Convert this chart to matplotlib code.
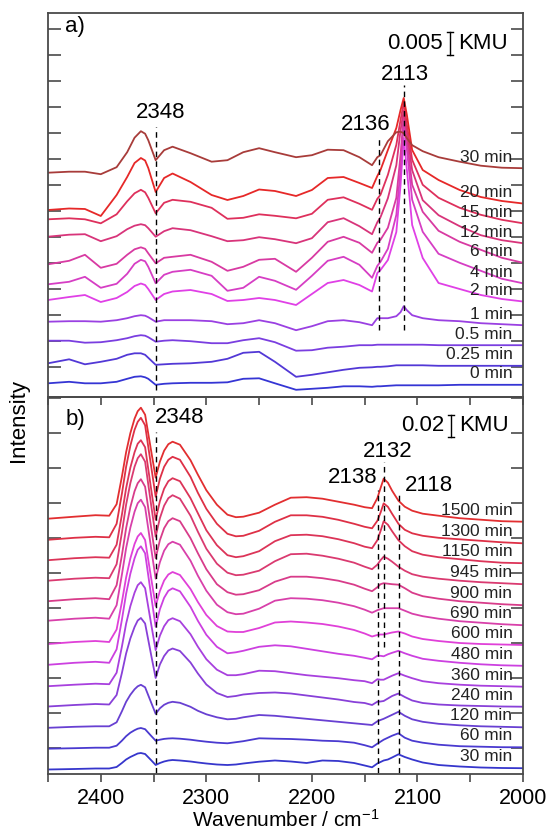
import numpy as np
import matplotlib
matplotlib.use("Agg")
import matplotlib.pyplot as plt
from matplotlib.ticker import MultipleLocator

plt.rcParams['font.family'] = ['Liberation Sans', 'DejaVu Sans']
plt.rcParams['mathtext.default'] = 'regular'

# ---------------- panel a) : spectra ----------------
# intensities relative to the value at 2450 cm-1, in units of 0.005/23 KMU
wn_a = [2450, 2430, 2415, 2400, 2385, 2375, 2368, 2362, 2358, 2355, 2348, 2340, 2332,
        2315, 2295, 2280, 2265, 2250, 2235, 2215, 2200, 2185, 2170, 2155, 2143, 2138,
        2135, 2128, 2120, 2116, 2113, 2110, 2105, 2095, 2080, 2060, 2040, 2020, 2000]

a_0 = [0, 1.5, 0, 0, 1.5, 4.5, 6.5, 7, 6, 4.5, -1.5, -0.5, 0, 0.5, 0.5, 1, 4.5, 5, 0, -6.5,
       -5.5, -4.5, -3, -3, -3.5, -3, -3, -2.5, -2, -2, -2, -2, -2, -2, -2, -1.5, -1.5, -1.5,
       -1.5]
a_025 = [0, 4, -1, 1.5, 4.5, 8.5, 10, 10, 8.5, 5.5, -1.5, -1, -0.5, 0, 1.5, 4.5, 10.5, 11.5,
         1.5, -13.5, -11.5, -9, -6.5, -4.5, -4, -3.5, -3.5, -3, -2, -2, -2, -2, -2, -2, -2.5,
         -2.5, -2.5, -2.5, -2.5]
a_05 = [0, 0, -2, -1.5, 0.5, 2.5, 4.5, 5.5, 5, 3.5, -1, 0, 0.5, -0.5, -2.5, -2.5, 0.5, 2.5,
        -1.5, -10, -9.5, -7, -6, -4.5, -4.5, -4, -4, -4, -4, -4, -4, -4, -4, -4, -4.5, -4.5,
        -4.5, -4.5, -4.5]
a_1 = [0, 0.5, 0.5, 0, 1.5, 3.5, 5.5, 6.5, 6, 4.5, 0, 1.5, 1.5, 1.5, 0.5, -2.5, -1.5, 1.5,
       -1.5, -8.5, -4.5, 0.5, 1.5, -0.5, -3.5, 3.5, 3.5, 3.5, 5.5, 9.5, 15.5, 11.5, 6.5, 3.5,
       1.5, 0.5, -1.5, -2.5, -3.5]
a_2 = [0, 3, 5, -2, 2, 8, 14, 16.5, 15, 11, 0, 6, 8.5, 10, 6, -1, 0, 2, 0, -5, 6, 17, 20, 15,
       8.5, 27, 30, 40, 68, 115, 162, 130, 75, 42, 17, 11, 5, 1, -1.5]
a_4 = [0, 2.5, 7.5, -3.5, 0.5, 10.5, 20.5, 24.5, 23, 17.5, 1, 9.5, 12.5, 14.5, 8.5, -6.5,
       -3.5, 7.5, 3.5, -5.5, 8.5, 23.5, 27.5, 19.5, 6.5, 18.5, 22.5, 35.5, 69.5, 114.5, 160.5,
       134.5, 84.5, 52.5, 30.5, 21.5, 13.5, 5.5, 1]
a_6 = [0, 3.5, 9.5, -3.5, 0.5, 9.5, 15, 17, 15.5, 11, 1, 6.5, 7.5, 9.5, 2.5, -6.5, -2.5, 4.5,
       5.5, -7.5, 6.5, 22.5, 27.5, 21.5, 11.5, 21.5, 24.5, 36.5, 66.5, 109.5, 149.5, 124.5,
       79.5, 52.5, 33.5, 22.5, 14.5, 6.5, 1.5]
a_12 = [0, 2, 2.5, -4.5, 0.5, 7.5, 11, 12.5, 11.5, 8.5, 0, 5.5, 8.5, 6.5, 0.5, -4.5, -3.5,
        -0.5, -2.5, -6.5, -1.5, 14.5, 18.5, 10.5, 2.5, 14.5, 19.5, 38.5, 71.5, 106.5, 126.5,
        104.5, 66.5, 36.5, 21.5, 10.5, 1.5, -3.5, -6.5]
a_15 = [0, 1, 0, -4, 5, 18, 26, 29.5, 27, 21.5, 6, 16.5, 19.5, 17.5, 11.5, 0.5, 1.5, 5, 3.5,
        1, 5.5, 19.5, 22, 15.5, 9.5, 20.5, 24.5, 44.5, 74.5, 99.5, 116.5, 94.5, 59.5, 34.5,
        21.5, 11.5, 4.5, -0.5, -4]
a_20 = [0, 1.5, 1, -6, 15, 33, 47, 52, 49.5, 42, 18, 32, 36.5, 28, 15, 10, 14, 20.5, 19, 14,
        20, 32, 33, 27, 22, 34, 40, 60, 82, 100, 112, 95, 60, 40, 30, 20, 13, 9, 6.5]
a_30 = [0, 1, 1, -1.5, 5.5, 20.5, 35, 41.5, 39, 32.5, 12.5, 22.5, 26, 19.5, 11, 12.5, 20.5,
        24.5, 20.5, 15.5, 17.5, 23, 22.5, 15.5, 7.5, 15.5, 17.5, 31.5, 40.5, 41, 39.5, 34.5,
        27.5, 21.5, 15.5, 11, 7, 5, 4.5]

spec_a = [a_0, a_025, a_05, a_1, a_2, a_4, a_6, a_12, a_15, a_20, a_30]
labels_a = ['0 min', '0.25 min', '0.5 min', '1 min', '2 min', '4 min', '6 min',
            '12 min', '15 min', '20 min', '30 min']
offs_a = [13.7, 33.7, 56.3, 75.3, 97, 112.7, 132.7, 160.3, 177.7, 187, 224.3]
cols_a = ['#3535d4', '#5238d6', '#7a3ee0', '#9a40e2', '#e040e6', '#d63ec4', '#d83aa2',
          '#d8347a', '#de305c', '#e62828', '#a83c3a']

# ---------------- panel b) ----------------
# units of 0.02/22 KMU
wn_b = [2450, 2425, 2405, 2392, 2385, 2380, 2376, 2372, 2368, 2365, 2362, 2358, 2352, 2348,
        2344, 2340, 2336, 2332, 2325, 2315, 2308, 2300, 2290, 2280, 2272, 2265,
        2250, 2235, 2220, 2205, 2190, 2175, 2160, 2150, 2143, 2138, 2135, 2132, 2128, 2124,
        2118, 2112, 2105, 2095, 2080, 2060, 2040, 2020, 2000]

b_30 = [0, 0.5, 1, 1, 2.5, 6.5, 10, 12.5, 14.5, 16, 16.5, 15.5, 9, 4.5, 6.5, 8, 9, 9.5, 9,
        8, 7, 6, 5, 4.5, 5, 6,
        7.8, 9, 8, 6.5, 9, 8.5, 6.5, 4, 2.2, 6, 7.5, 9, 10, 12, 15.2, 12.5, 10, 7, 4.5, 3, 2,
        1.5, 1.3]
b_60 = [0, 0.5, 1, 1, 3, 8, 12.5, 16, 18.5, 20, 20.7, 19.5, 12.5, 8, 9, 9.8, 10.2, 10.4, 10,
        9, 8, 7, 6, 5.4, 6.5, 7.5,
        10.4, 10, 9.7, 9, 8, 7.5, 6, 3.5, 1.4, 5, 7, 9, 11, 13, 15.4, 11, 8, 6, 4, 2.5, 2,
        1.5, 1.4]
b_120 = [0, 1, 1.5, 1.5, 5.5, 16.5, 26, 33, 38.5, 41.5, 43, 40.5, 24.5, 14, 19.5, 23, 25, 26,
         25, 21, 17, 13.5, 10.5, 8.5, 9, 10.5,
         12.8, 12, 10.5, 9, 7.5, 6, 4.5, 3.5, 2.8, 6.5, 7.8, 9, 11, 13, 16, 12, 8.5, 6, 4,
         2.5, 1.5, 1, 0.5]
b_240 = [0, 1.5, 2.5, 2, 11.5, 33.5, 53, 68, 79.5, 86, 88.5, 83, 50, 28.5, 42, 50.5, 56, 58,
         55.5, 44, 33, 22, 13.5, 9.5, 10.5, 12,
         13.5, 14, 13, 11, 9, 7, 4.5, 3.5, 1.5, 4.8, 5, 5.5, 8, 10.5, 13, 9.5, 6, 3.5, 2, 1,
         0.5, 0, -0.2]
b_360 = [0, 1.5, 2.5, 2, 13.5, 39.5, 62.5, 80, 93.5, 101, 104, 98, 60.5, 36, 50.5, 60, 66,
         68, 65, 52, 39.5, 27, 16.5, 11, 11, 12,
         15.5, 15, 13, 11, 9.5, 8, 6, 5, 3, 7, 6.5, 6.5, 8.5, 10.5, 13, 10.5, 8, 5, 3, 1.5,
         0.5, 0, -0.5]
b_480 = [0, 2, 3, 2, 15.5, 45, 71, 91, 106.5, 115, 118.5, 111.5, 67, 38, 55.5, 67, 74, 76.5,
         73.5, 58, 44, 30, 18, 11.5, 12.5, 14,
         18, 19.5, 18.5, 16, 13.5, 11, 9, 7, 5.5, 9, 9, 8.5, 10.5, 12, 14, 11.5, 9, 6, 4, 2,
         0.5, -0.5, -1]
b_600 = [0, 2, 3, 2, 14.5, 42, 66.5, 85.5, 100, 107.5, 111, 104, 64, 38, 53, 63.5, 69.5, 72,
         69, 55, 42, 29, 18, 12.5, 12, 12,
         16, 21.5, 22.5, 21.5, 20, 17.5, 14, 10.5, 7.5, 9, 9.5, 9.5, 10.5, 11.5, 12.5, 10.5,
         7.5, 5, 3, 1, 0, -0.5, -1]
b_690 = [0, 2, 3, 2, 15.5, 46, 72.5, 93, 109, 117.5, 121, 113.5, 70.5, 42, 58.5, 70, 76.5, 79,
         76, 60, 45, 30, 16, 8.5, 6.5, 7,
         12, 20, 22.5, 22, 20.5, 18, 14.5, 11, 8, 10.5, 11.5, 12.5, 12.5, 12.5, 12.5, 10, 7,
         4.5, 2, -0.5, -2, -3.5, -4.5]
b_900 = [0, 2, 3, 2, 16, 46, 73, 94, 110, 118, 122, 114.5, 71.5, 43, 61, 73, 80, 83, 80, 63,
         48, 32, 17, 9, 6.5, 7,
         11, 19.5, 24.5, 24.5, 23, 20.5, 16.5, 12.5, 10, 14, 17, 18, 17.5, 17, 16.5, 13, 8.5,
         5, 2.5, 0, -1.5, -3, -4]
b_945 = [0, 2, 3, 2.5, 16.5, 48, 76, 97.5, 114, 122.5, 126.5, 119, 73.5, 44, 62.5, 75, 82.5,
         85.5, 82, 65, 49, 32, 17, 8, 5.5, 6,
         10, 19.5, 26.5, 27, 25, 22, 18, 14, 11.5, 16, 20.5, 24, 22, 19, 14, 10, 6.5, 4, 2,
         0, -1.5, -2.5, -3.5]
b_1150 = [0, 2, 3, 2.5, 15.5, 45.5, 72, 92.5, 108, 116.5, 120, 113, 69, 40.5, 59, 71.5, 79,
          82, 79, 62, 47, 30, 15, 5, 3, 4,
          9, 19, 25, 25.5, 24, 21, 17, 13.5, 12, 20, 29, 39, 35.5, 29, 20, 14, 9, 5.5, 3, 1,
          -1, -2.5, -3]
b_1300 = [0, 2, 3, 2.5, 16, 46, 73, 94, 110, 118, 122, 114.5, 71.5, 43, 61, 73, 80, 83, 80,
          63, 47, 31, 16, 6, 3.5, 4,
          9, 18, 24.5, 24.5, 23, 20, 16, 13, 11.5, 19, 27, 36.5, 33, 26, 16, 10, 6.5, 4, 2,
          0.5, -1, -2.5, -3.5]
b_1500 = [0, 2, 3.5, 3, 14.5, 42, 66.5, 85.5, 100, 107.5, 111, 104, 66, 41, 57, 68, 74.5, 77,
          74, 58.5, 44, 28.5, 14, 4, 1.5, 2,
          6, 14, 21, 21.5, 20, 17, 14, 11.5, 10.5, 20.5, 30.5, 40, 36, 28, 18, 12, 8, 5, 3,
          0.5, -1, -2.5, -3]

spec_b = [b_30, b_60, b_120, b_240, b_360, b_480, b_600, b_690, b_900, b_945, b_1150,
          b_1300, b_1500]
labels_b = ['30 min', '60 min', '120 min', '240 min', '360 min', '480 min', '600 min',
            '690 min', '900 min', '945 min', '1150 min', '1300 min', '1500 min']
offs_b = [4.5, 25.3, 46.2, 67.5, 87.8, 109.2, 130, 153.3, 172.8, 193.3, 213.8, 234.2, 255.3]
cols_b = ['#3636cc', '#4a3ad0', '#6840d2', '#8840d8', '#a840de', '#cc40e0', '#e040d8',
          '#d840aa', '#d83c8a', '#da3a70', '#dc3458', '#de3046', '#e22e30']

for s in spec_a:
    assert len(s) == len(wn_a)
for s in spec_b:
    assert len(s) == len(wn_b)

ua = 0.005 / 23
ub = 0.02 / 22

fig = plt.figure(figsize=(5.53, 8.34), dpi=100)
W, H = 553, 834
ax1 = fig.add_axes([48 / W, 1 - 397 / H, 475 / W, 384 / H])
ax2 = fig.add_axes([48 / W, 1 - 774 / H, 475 / W, 377 / H])
ax2.patch.set_alpha(0)

spine_c = '#4a4a4a'
dash = (0, (4, 3))


def style(ax, unit, ticks, top):
    ax.set_xlim(2450, 2000)
    ax.set_ylim(0, top * unit)
    ax.set_xticks([2400, 2300, 2200, 2100, 2000])
    ax.xaxis.set_minor_locator(MultipleLocator(50))
    ax.set_yticks(np.array(ticks) * unit)
    ax.tick_params(axis='y', which='both', direction='in', left=True, right=True,
                   labelleft=False, length=9, width=1.2, color=spine_c)
    ax.tick_params(axis='x', which='both', direction='out', length=6, width=1.2,
                   color=spine_c, labelsize=15.5, pad=4)
    for sp in ax.spines.values():
        sp.set_color(spine_c)
        sp.set_linewidth(1.3)


style(ax1, ua, np.arange(30, 384, 26), 384)
style(ax2, ub, np.arange(26, 377, 35), 377)
ax1.tick_params(axis='x', labelbottom=False)

# curves
for s, off, c, lab in zip(spec_a, offs_a, cols_a, labels_a):
    y = (np.array(s) + off) * ua
    ax1.plot(wn_a, y, color=c, lw=1.3)
    ax1.text(2010, y[-1] + 11 * ua, lab, ha='right', va='center', fontsize=12.5,
             color='#222222')

for s, off, c, lab in zip(spec_b, offs_b, cols_b, labels_b):
    y = (np.array(s) + off) * ub
    ax2.plot(wn_b, y, color=c, lw=1.3)
    ax2.text(2010, y[-1] + 11.5 * ub, lab, ha='right', va='center', fontsize=12.5,
             color='#222222')

# marker lines
ax1.plot([2348, 2348], [7 * ua, 270 * ua], color='k', lw=1, ls=dash)
ax1.plot([2136.7, 2136.7], [67 * ua, 260 * ua], color='k', lw=1, ls=dash)
ax1.plot([2112.5, 2112.5], [67 * ua, 312 * ua], color='k', lw=1, ls=dash)
ax2.plot([2348, 2348], [1 * ub, 342 * ub], color='k', lw=1, ls=dash)
ax2.plot([2137.4, 2137.4], [1 * ub, 284 * ub], color='k', lw=1, ls=dash)
ax2.plot([2131.7, 2131.7], [127 * ub, 312 * ub], color='k', lw=1, ls=dash)
ax2.plot([2117.5, 2117.5], [1 * ub, 279 * ub], color='k', lw=1, ls=dash)

fs = 16
ax1.text(2424.4, 370 * ua, 'a)', ha='center', va='center', fontsize=fs)
ax1.text(2342.9, 284 * ua, '2348', ha='center', va='center', fontsize=fs)
ax1.text(2148.8, 272 * ua, '2136', ha='center', va='center', fontsize=fs)
ax1.text(2111.8, 322 * ua, '2113', ha='center', va='center', fontsize=fs)

ax2.text(2424.4, 354 * ub, 'b)', ha='center', va='center', fontsize=fs)
ax2.text(2325, 356 * ub, '2348', ha='center', va='center', fontsize=fs)
ax2.text(2127.9, 322 * ub, '2132', ha='center', va='center', fontsize=fs)
ax2.text(2161, 296 * ub, '2138', ha='center', va='center', fontsize=fs)
ax2.text(2089, 288 * ub, '2118', ha='center', va='center', fontsize=fs)


def scale_bar(ax, x, y0, length, text):
    ax.plot([x, x], [y0, y0 + length], color='k', lw=1)
    for yy in (y0, y0 + length):
        ax.plot([x - 3, x + 3], [yy, yy], color='k', lw=1)
    ax.text(x + 6.5, y0 + length / 2, text, ha='right', va='center', fontsize=fs)
    ax.text(x - 8, y0 + length / 2, 'KMU', ha='left', va='center', fontsize=fs)


scale_bar(ax1, 2069.2, 342 * ua, 0.005, '0.005')
scale_bar(ax2, 2068.2, 337 * ub, 0.02, '0.02')

ax2.set_xlabel('Wavenumber / cm$^{-1}$', fontsize=15, labelpad=0)
fig.text(0.033, 1 - 420 / H, 'Intensity', rotation=90, ha='center', va='center',
         fontsize=16)

fig.savefig('out.png', dpi=100)
